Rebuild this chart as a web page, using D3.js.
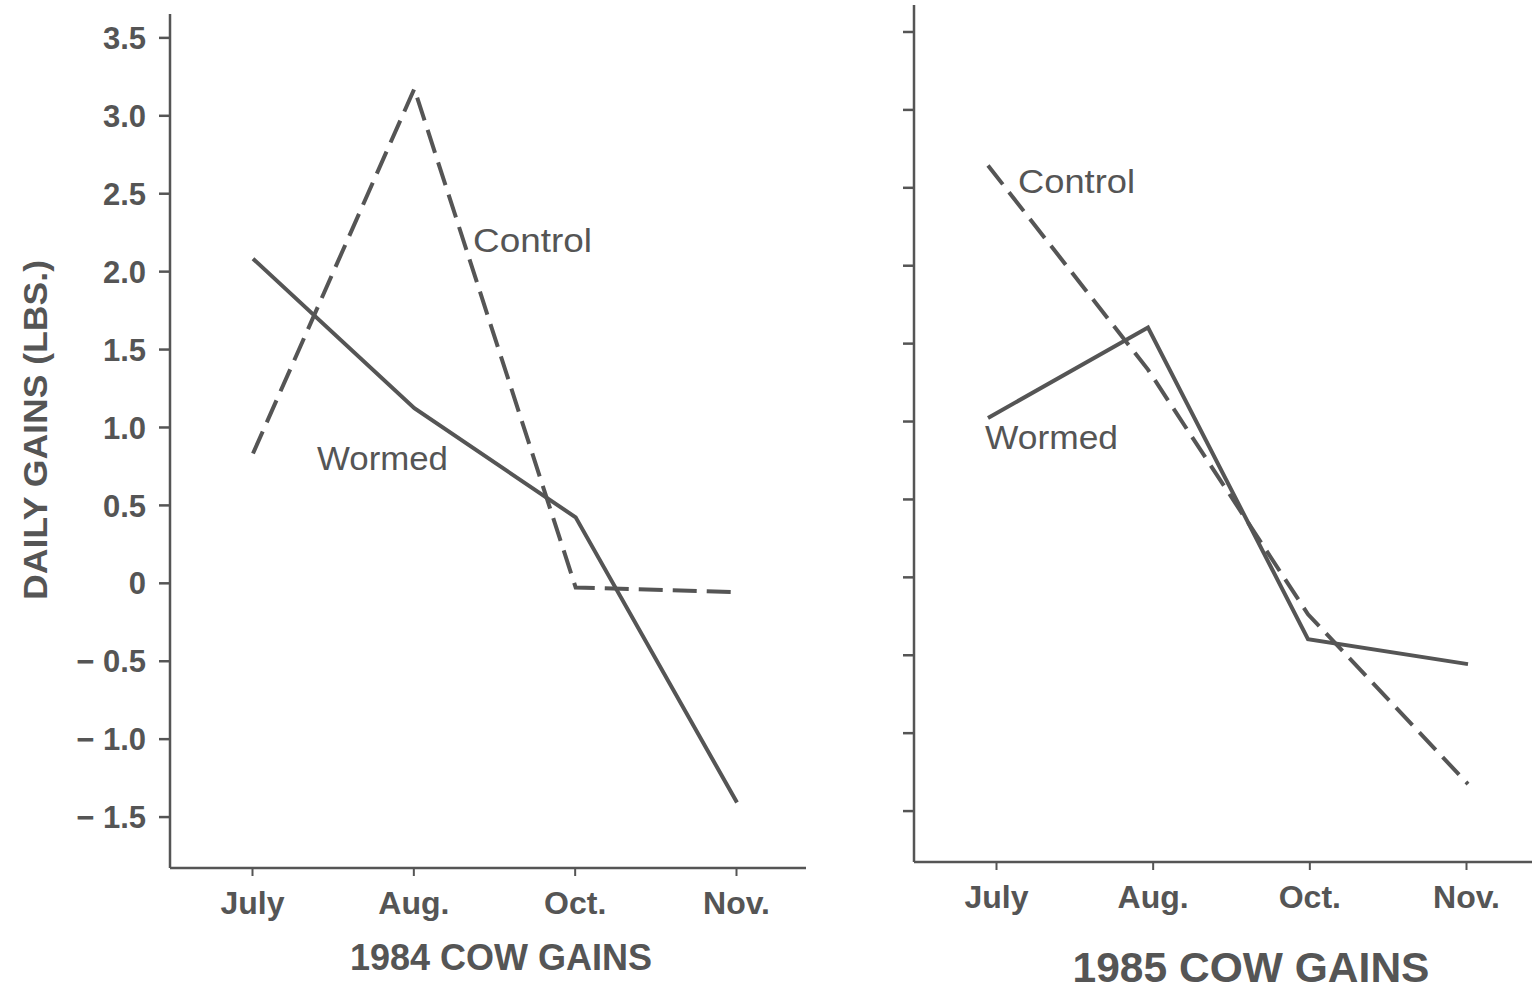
<!DOCTYPE html>
<html><head><meta charset="utf-8">
<script src="https://cdn.jsdelivr.net/npm/d3@7"></script>
<style>
html,body{margin:0;padding:0;background:#fff;}
text{font-family:"Liberation Sans",Arial,Helvetica,sans-serif;fill:#555;}
</style></head>
<body>
<svg id="c" width="1532" height="995"></svg>
<script>
const months = ["July","Aug.","Oct.","Nov."];
const yTicks = [3.5,3.0,2.5,2.0,1.5,1.0,0.5,0,-0.5,-1.0,-1.5];
const yTickLabels = ["3.5","3.0","2.5","2.0","1.5","1.0","0.5","0","\u2212 0.5","\u2212 1.0","\u2212 1.5"];
const wormed1984 = [2.08, 1.12, 0.42, -1.41];
const control1984 = [0.83, 3.17, -0.03, -0.06];
const wormed1985 = [1.02, 1.60, -0.40, -0.56];
const control1985 = [2.64, 1.33, -0.24, -1.33];

const svg = d3.select("#c");
const ink = "#555";

const panels = [
  {title:"1984 COW GAINS", titleX:501, titleY:970, titleSize:36, titleLen:302,
   axisX:170, bottomY:868, topY:14, rightX:806, xr:[253,737], xTickR:[252,736],
   yDom:[-1.83,3.65], labels:true, monthY:914,
   wormed:wormed1984, control:control1984,
   cLab:[473,252,119], wLab:[317,470,131]},
  {title:"1985 COW GAINS", titleX:1251, titleY:982, titleSize:42, titleLen:357,
   axisX:914, bottomY:862, topY:5, rightX:1532, xr:[988,1468], xTickR:[996,1466],
   yDom:[-1.83,3.67], labels:false, monthY:908,
   wormed:wormed1985, control:control1985,
   cLab:[1018,193,117], wLab:[985,449,133]}
];

panels.forEach(p=>{
  const g = svg.append("g");
  const y = d3.scaleLinear().domain(p.yDom).range([p.bottomY, p.topY]);
  const x = d3.scalePoint().domain(months).range(p.xr);
  const xt = d3.scalePoint().domain(months).range(p.xTickR);

  // y axis
  const yAxis = d3.axisLeft(y).tickValues(yTicks).tickSize(11).tickSizeOuter(0)
    .tickFormat((d,i)=> p.labels ? yTickLabels[i] : "");
  const ya = g.append("g").attr("transform",`translate(${p.axisX},0)`).call(yAxis);
  ya.select(".domain").remove();
  ya.selectAll(".tick line").attr("stroke",ink).attr("stroke-width",2.5);
  ya.selectAll(".tick text").attr("font-size",31).attr("font-weight","bold")
    .attr("fill",ink).attr("x",-24).attr("dy","0.36em");
  g.append("line").attr("x1",p.axisX).attr("x2",p.axisX)
    .attr("y1",p.topY).attr("y2",p.bottomY).attr("stroke",ink).attr("stroke-width",2.5);

  // x axis
  const xAxis = d3.axisBottom(xt).tickSize(8).tickSizeOuter(0);
  const xa = g.append("g").attr("transform",`translate(0,${p.bottomY})`).call(xAxis);
  xa.select(".domain").remove();
  xa.selectAll(".tick line").attr("stroke",ink).attr("stroke-width",2);
  xa.selectAll(".tick text").attr("font-size",32).attr("font-weight","bold")
    .attr("fill",ink).attr("y",p.monthY - p.bottomY).attr("dy",0);
  g.append("line").attr("x1",p.axisX).attr("x2",p.rightX)
    .attr("y1",p.bottomY).attr("y2",p.bottomY).attr("stroke",ink).attr("stroke-width",2.5);

  const line = d3.line().x((d,i)=>x(months[i])).y(d=>y(d));
  g.append("path").datum(p.wormed).attr("d",line).attr("fill","none")
    .attr("stroke",ink).attr("stroke-width",4).attr("stroke-linejoin","miter");
  g.append("path").datum(p.control).attr("d",line).attr("fill","none")
    .attr("stroke",ink).attr("stroke-width",4).attr("stroke-dasharray","24,10");

  g.append("text").attr("x",p.cLab[0]).attr("y",p.cLab[1]).attr("font-size",33)
    .attr("textLength",p.cLab[2]).attr("lengthAdjust","spacingAndGlyphs").text("Control");
  g.append("text").attr("x",p.wLab[0]).attr("y",p.wLab[1]).attr("font-size",33)
    .attr("textLength",p.wLab[2]).attr("lengthAdjust","spacingAndGlyphs").text("Wormed");

  g.append("text").attr("x",p.titleX).attr("y",p.titleY).attr("text-anchor","middle")
    .attr("font-size",p.titleSize).attr("font-weight","bold").attr("fill",ink)
    .attr("textLength", p.titleLen).attr("lengthAdjust","spacingAndGlyphs")
    .text(p.title);
});

svg.append("text").attr("transform","translate(47,430) rotate(-90)")
  .attr("text-anchor","middle").attr("font-size",33).attr("font-weight","bold").attr("fill",ink)
  .attr("textLength",340).attr("lengthAdjust","spacingAndGlyphs")
  .text("DAILY GAINS (LBS.)");
</script>
</body></html>
